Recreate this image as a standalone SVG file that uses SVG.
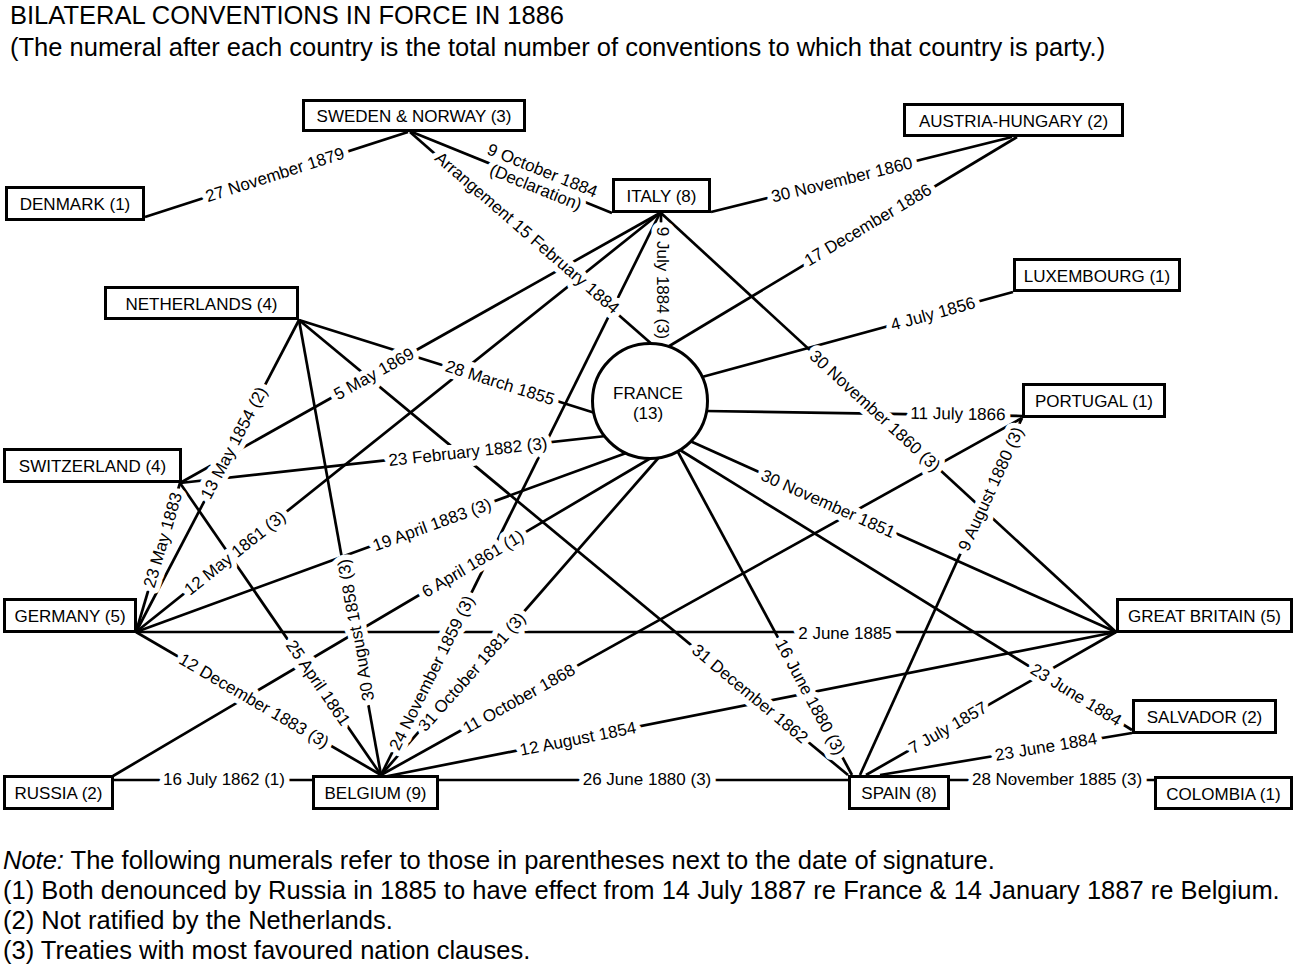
<svg xmlns="http://www.w3.org/2000/svg" width="1301" height="967" viewBox="0 0 1301 967">
<style>
.hdr{font-family:"Liberation Sans",Arial,Helvetica,sans-serif;font-size:25.5px;fill:#000}
.nt{font-family:"Liberation Sans",Arial,Helvetica,sans-serif;font-size:17px;fill:#000;text-anchor:middle}
.el{font-family:"Liberation Sans",Arial,Helvetica,sans-serif;font-size:17px;fill:#000;text-anchor:middle;dominant-baseline:central;stroke:#fff;stroke-width:11px;stroke-linejoin:round;paint-order:stroke}
.box{fill:#fff;stroke:#000;stroke-width:3}
#connectors line{stroke:#000;stroke-width:2.7;fill:none}
</style>
<rect x="0" y="0" width="1301" height="967" fill="#fff"/>
<text class="hdr" x="10" y="24">BILATERAL CONVENTIONS IN FORCE IN 1886</text>
<text class="hdr" x="10" y="56">(The numeral after each country is the total number of conventions to which that country is party.)</text>

<g id="connectors">
<line x1="145" y1="217" x2="408" y2="132"/>
<line x1="412" y1="132" x2="612" y2="213"/>
<line x1="410" y1="132" x2="654" y2="346"/>
<line x1="711" y1="212" x2="1012" y2="137"/>
<line x1="666" y1="348" x2="1017" y2="137"/>
<line x1="661" y1="213" x2="661" y2="346"/>
<line x1="702" y1="377" x2="1013" y2="292"/>
<line x1="705" y1="411" x2="1022" y2="416"/>
<line x1="661" y1="213" x2="1116" y2="632"/>
<line x1="690" y1="441" x2="1116" y2="632"/>
<line x1="680" y1="450" x2="1132" y2="730"/>
<line x1="678" y1="452" x2="852" y2="775"/>
<line x1="661" y1="455" x2="381" y2="775"/>
<line x1="656" y1="455" x2="113" y2="776"/>
<line x1="629" y1="452" x2="136" y2="632"/>
<line x1="606" y1="436" x2="180" y2="483"/>
<line x1="595" y1="413" x2="299" y2="320"/>
<line x1="660" y1="213" x2="180" y2="483"/>
<line x1="660" y1="213" x2="136" y2="632"/>
<line x1="660" y1="213" x2="381" y2="775"/>
<line x1="299" y1="320" x2="136" y2="632"/>
<line x1="299" y1="320" x2="381" y2="775"/>
<line x1="299" y1="320" x2="848" y2="775"/>
<line x1="180" y1="483" x2="136" y2="632"/>
<line x1="180" y1="483" x2="381" y2="775"/>
<line x1="136" y1="632" x2="1116" y2="632"/>
<line x1="136" y1="632" x2="381" y2="775"/>
<line x1="113" y1="780" x2="312" y2="780"/>
<line x1="381" y1="775" x2="1022" y2="418"/>
<line x1="383" y1="777" x2="1116" y2="632"/>
<line x1="439" y1="780" x2="848" y2="780"/>
<line x1="860" y1="775" x2="1022" y2="418"/>
<line x1="866" y1="775" x2="1116" y2="632"/>
<line x1="880" y1="775" x2="1132" y2="733"/>
<line x1="950" y1="780" x2="1154" y2="780"/>
</g>

<g id="edge-labels">
<text class="el" transform="translate(275,175) rotate(-17.8)">27 November 1879</text>
<g transform="translate(539,179) rotate(22)">
<text class="el" x="0" y="-9">9 October 1884</text>
<text class="el" x="0" y="9">(Declaration)</text>
</g>
<text class="el" transform="translate(527,233) rotate(40.9)">Arrangement 15 February 1884</text>
<text class="el" transform="translate(842,180) rotate(-13.8)">30 November 1860</text>
<text class="el" transform="translate(868,225) rotate(-30.7)">17 December 1886</text>
<text class="el" transform="translate(662,283) rotate(90)">9 July 1884 (3)</text>
<text class="el" transform="translate(933,314) rotate(-15.3)">4 July 1856</text>
<text class="el" transform="translate(958,414) rotate(0.9)">11 July 1866</text>
<text class="el" transform="translate(875,411) rotate(42.5)">30 November 1860 (3)</text>
<text class="el" transform="translate(828,504) rotate(24)">30 November 1851</text>
<text class="el" transform="translate(991,489) rotate(-65.5)">9 August 1880 (3)</text>
<text class="el" transform="translate(1076,695) rotate(31.7)">23 June 1884</text>
<text class="el" transform="translate(1046,747) rotate(-9.5)">23 June 1884</text>
<text class="el" transform="translate(948,728) rotate(-29.8)">7 July 1857</text>
<text class="el" transform="translate(1057,779)">28 November 1885 (3)</text>
<text class="el" transform="translate(845,633)">2 June 1885</text>
<text class="el" transform="translate(810,697) rotate(61.7)">16 June 1880 (3)</text>
<text class="el" transform="translate(750,694) rotate(39.7)">31 December 1862</text>
<text class="el" transform="translate(647,779)">26 June 1880 (3)</text>
<text class="el" transform="translate(578,739) rotate(-11.2)">12 August 1854</text>
<text class="el" transform="translate(519,699) rotate(-29.1)">11 October 1868</text>
<text class="el" transform="translate(472,672) rotate(-48.4)">31 October 1881 (3)</text>
<text class="el" transform="translate(432,673) rotate(-63.6)">24 November 1859 (3)</text>
<text class="el" transform="translate(356,630) rotate(-100.2)">30 August 1858 (3)</text>
<text class="el" transform="translate(318,683) rotate(55.5)">25 April 1861</text>
<text class="el" transform="translate(254,701) rotate(30.3)">12 December 1883 (3)</text>
<text class="el" transform="translate(224,779)">16 July 1862 (1)</text>
<text class="el" transform="translate(473,564) rotate(-30.6)">6 April 1861 (1)</text>
<text class="el" transform="translate(432,525) rotate(-20)">19 April 1883 (3)</text>
<text class="el" transform="translate(235,553) rotate(-38.6)">12 May 1861 (3)</text>
<text class="el" transform="translate(163,540) rotate(-73.5)">23 May 1883</text>
<text class="el" transform="translate(234,443) rotate(-62.4)">13 May 1854 (2)</text>
<text class="el" transform="translate(374,374) rotate(-29.3)">5 May 1869</text>
<text class="el" transform="translate(500,383) rotate(17.6)">28 March 1855</text>
<text class="el" transform="translate(468,452) rotate(-6.2)">23 February 1882 (3)</text>
</g>

<g id="sweden-norway"><rect class="box" x="303.5" y="100.5" width="221" height="30"/><text class="nt" x="414" y="122">SWEDEN &amp; NORWAY (3)</text></g>
<g id="denmark"><rect class="box" x="6.5" y="187.5" width="137" height="32"/><text class="nt" x="75" y="210">DENMARK (1)</text></g>
<g id="netherlands"><rect class="box" x="105.5" y="287.5" width="192" height="31"/><text class="nt" x="201.5" y="309.5">NETHERLANDS (4)</text></g>
<g id="italy"><rect class="box" x="613.5" y="179.5" width="96" height="32"/><text class="nt" x="661.5" y="202">ITALY (8)</text></g>
<g id="austria-hungary"><rect class="box" x="904.5" y="104.5" width="218" height="31"/><text class="nt" x="1013.5" y="126.5">AUSTRIA-HUNGARY (2)</text></g>
<g id="luxembourg"><rect class="box" x="1014.5" y="259.5" width="165" height="31"/><text class="nt" x="1097" y="281.5">LUXEMBOURG (1)</text></g>
<g id="portugal"><rect class="box" x="1023.5" y="384.5" width="141" height="32"/><text class="nt" x="1094" y="407">PORTUGAL (1)</text></g>
<g id="switzerland"><rect class="box" x="4.5" y="449.5" width="176" height="32"/><text class="nt" x="92.5" y="472">SWITZERLAND (4)</text></g>
<g id="germany"><rect class="box" x="4.5" y="599.5" width="131" height="32"/><text class="nt" x="70" y="622">GERMANY (5)</text></g>
<g id="russia"><rect class="box" x="4.5" y="776.5" width="108" height="32"/><text class="nt" x="58.5" y="799">RUSSIA (2)</text></g>
<g id="belgium"><rect class="box" x="313.5" y="776.5" width="124" height="32"/><text class="nt" x="375.5" y="799">BELGIUM (9)</text></g>
<g id="spain"><rect class="box" x="849.5" y="776.5" width="99" height="32"/><text class="nt" x="899" y="799">SPAIN (8)</text></g>
<g id="colombia"><rect class="box" x="1155.5" y="777.5" width="136" height="31"/><text class="nt" x="1223.5" y="799.5">COLOMBIA (1)</text></g>
<g id="salvador"><rect class="box" x="1133.5" y="700.5" width="142" height="32"/><text class="nt" x="1204.5" y="723">SALVADOR (2)</text></g>
<g id="great-britain"><rect class="box" x="1117.5" y="599.5" width="174" height="32"/><text class="nt" x="1204.5" y="622">GREAT BRITAIN (5)</text></g>
<g id="france"><circle class="box" cx="650" cy="401" r="57.5"/><text class="nt" x="648" y="399">FRANCE</text><text class="nt" x="648" y="419">(13)</text></g>

<text class="hdr" x="3" y="869"><tspan font-style="italic">Note:</tspan> The following numerals refer to those in parentheses next to the date of signature.</text>
<text class="hdr" x="3" y="899">(1) Both denounced by Russia in 1885 to have effect from 14 July 1887 re France &amp; 14 January 1887 re Belgium.</text>
<text class="hdr" x="3" y="929">(2) Not ratified by the Netherlands.</text>
<text class="hdr" x="3" y="959">(3) Treaties with most favoured nation clauses.</text>
</svg>
